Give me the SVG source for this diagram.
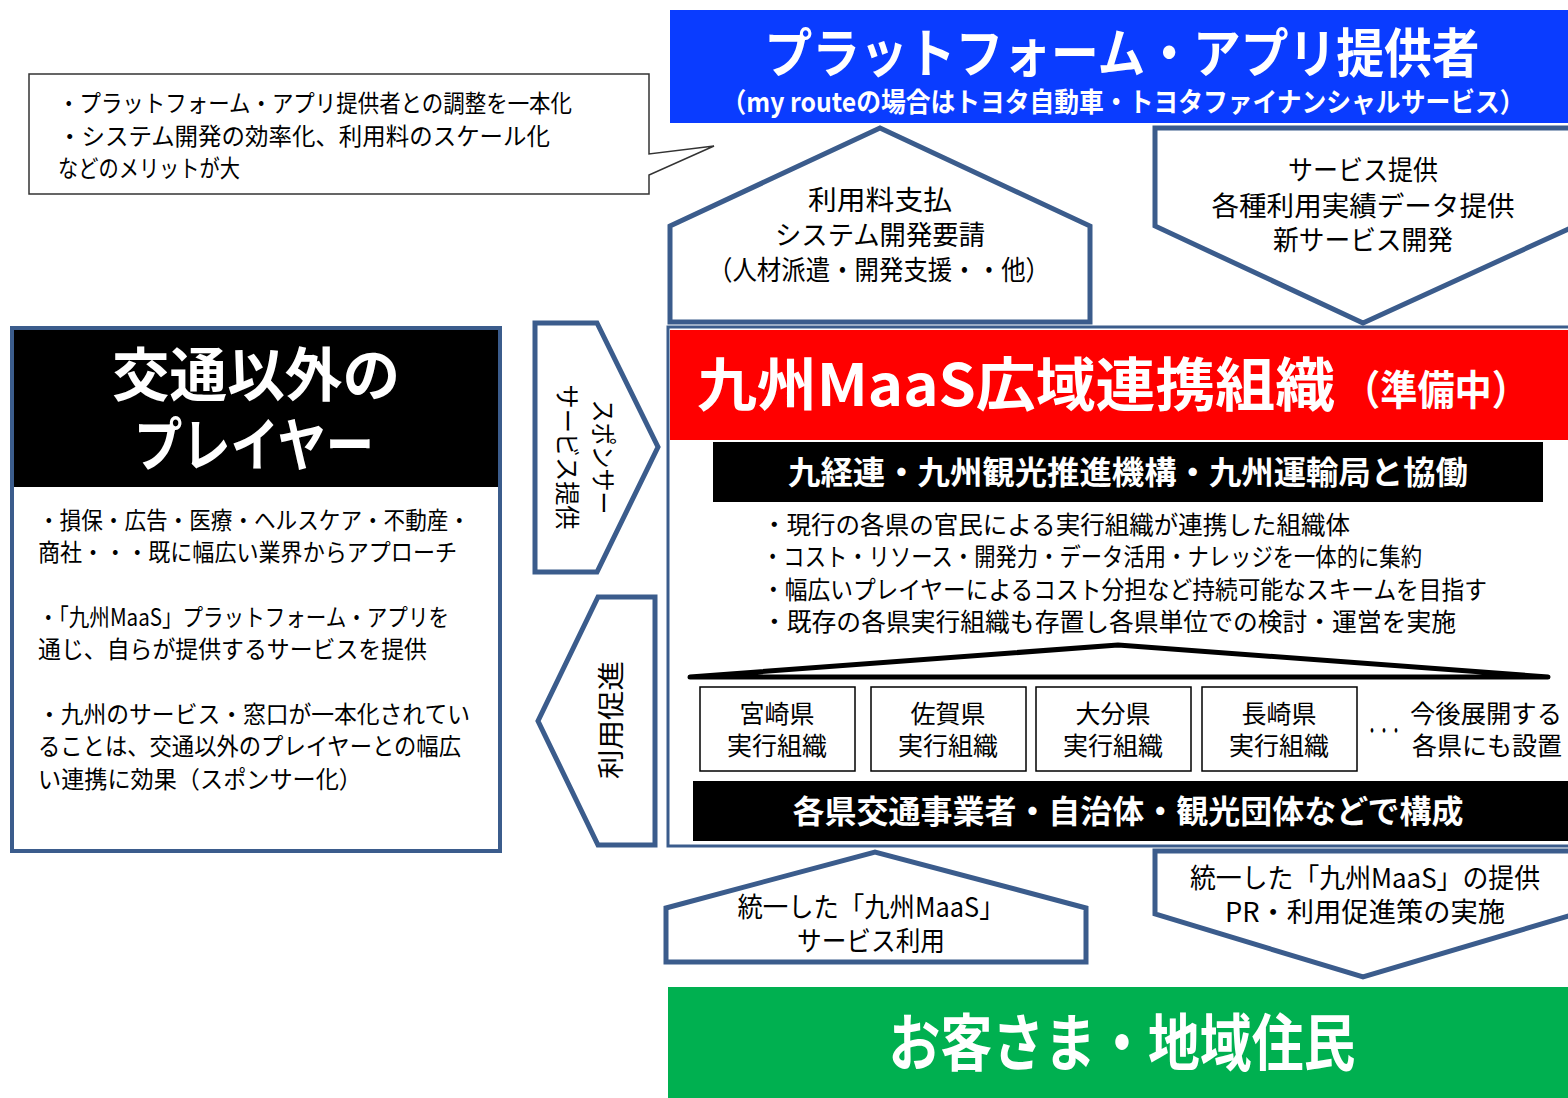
<svg xmlns="http://www.w3.org/2000/svg" width="1568" height="1098" viewBox="0 0 1568 1098">
<style>
text{font-family:"Noto Sans CJK JP","Noto Sans",sans-serif;}
.w{fill:#fff;font-weight:700;}
.k{fill:#000;}
.c{text-anchor:middle;}
.arr{fill:#fff;stroke:#3b5c8c;stroke-width:5;stroke-linejoin:miter;}
.pref{fill:#fff;stroke:#000;stroke-width:1.5;}
</style>
<rect width="1568" height="1098" fill="#fff"/>

<g id="callout">
<path d="M29,74 H649 V154 L714,146 L649,175 V194 H29 Z" fill="#fff" stroke="#333" stroke-width="1.5"/>
<text class="k" x="58" y="112" font-size="24" textLength="514" lengthAdjust="spacingAndGlyphs">・プラットフォーム・アプリ提供者との調整を一本化</text>
<text class="k" x="58" y="145" font-size="24" textLength="492" lengthAdjust="spacingAndGlyphs">・システム開発の効率化、利用料のスケール化</text>
<text class="k" x="58" y="177" font-size="24" textLength="182" lengthAdjust="spacingAndGlyphs">などのメリットが大</text>
</g>

<g id="platform">
<rect x="670" y="10" width="898" height="113" fill="#0a3cff"/>
<text class="w c" x="1122" y="73" font-size="53" textLength="715" lengthAdjust="spacingAndGlyphs">プラットフォーム・アプリ提供者</text>
<text class="w c" x="1123" y="112" font-size="27" textLength="803" lengthAdjust="spacingAndGlyphs">（my routeの場合はトヨタ自動車・トヨタファイナンシャルサービス）</text>
</g>

<g id="others">
<rect x="12" y="328" width="488" height="523" fill="#fff" stroke="#3b5c8c" stroke-width="4"/>
<rect x="14" y="330" width="484" height="157" fill="#000"/>
<text class="w c" x="256" y="396" font-size="58" textLength="288" lengthAdjust="spacingAndGlyphs">交通以外の</text>
<text class="w c" x="254" y="466" font-size="58" textLength="240" lengthAdjust="spacingAndGlyphs">プレイヤー</text>
<g class="k" font-size="24">
<text x="38" y="529" textLength="432" lengthAdjust="spacingAndGlyphs">・損保・広告・医療・ヘルスケア・不動産・</text>
<text x="38" y="561" textLength="419" lengthAdjust="spacingAndGlyphs">商社・・・既に幅広い業界からアプローチ</text>
<text x="38" y="626" textLength="411" lengthAdjust="spacingAndGlyphs">・「九州MaaS」プラットフォーム・アプリを</text>
<text x="38" y="658" textLength="389" lengthAdjust="spacingAndGlyphs">通じ、自らが提供するサービスを提供</text>
<text x="38" y="723" textLength="432" lengthAdjust="spacingAndGlyphs">・九州のサービス・窓口が一本化されてい</text>
<text x="38" y="755" textLength="423" lengthAdjust="spacingAndGlyphs">ることは、交通以外のプレイヤーとの幅広</text>
<text x="38" y="788" textLength="324" lengthAdjust="spacingAndGlyphs">い連携に効果（スポンサー化）</text>
</g>
</g>

<g id="org">
<rect x="668" y="327" width="905" height="519" fill="#fff" stroke="#3b5c8c" stroke-width="3"/>
<rect x="670" y="330" width="898" height="110" fill="#ff0000"/>
<text class="w" x="697" y="406" font-size="58" textLength="638" lengthAdjust="spacingAndGlyphs">九州MaaS広域連携組織</text>
<text class="w" x="1343" y="405" font-size="41" textLength="186" lengthAdjust="spacingAndGlyphs">（準備中）</text>
<rect x="713" y="442" width="830" height="60" fill="#000"/>
<text class="w c" x="1128" y="484" font-size="32" textLength="680" lengthAdjust="spacingAndGlyphs">九経連・九州観光推進機構・九州運輸局と協働</text>
<g class="k" font-size="25">
<text x="762" y="534" textLength="588" lengthAdjust="spacingAndGlyphs">・現行の各県の官民による実行組織が連携した組織体</text>
<text x="762" y="566" textLength="660" lengthAdjust="spacingAndGlyphs">・コスト・リソース・開発力・データ活用・ナレッジを一体的に集約</text>
<text x="762" y="599" textLength="725" lengthAdjust="spacingAndGlyphs">・幅広いプレイヤーによるコスト分担など持続可能なスキームを目指す</text>
<text x="762" y="631" textLength="694" lengthAdjust="spacingAndGlyphs">・既存の各県実行組織も存置し各県単位での検討・運営を実施</text>
</g>
<path d="M690,677 L1118,645 L1548,677 Z" fill="none" stroke="#000" stroke-width="5" stroke-linejoin="round"/>
<g id="pref-miyazaki">
<rect class="pref" x="700" y="687" width="155" height="84"/>
<text class="k c" x="777" y="723" font-size="25">宮崎県</text>
<text class="k c" x="777" y="755" font-size="25">実行組織</text>
</g>
<g id="pref-saga">
<rect class="pref" x="871" y="687" width="155" height="84"/>
<text class="k c" x="948" y="723" font-size="25">佐賀県</text>
<text class="k c" x="948" y="755" font-size="25">実行組織</text>
</g>
<g id="pref-oita">
<rect class="pref" x="1036" y="687" width="155" height="84"/>
<text class="k c" x="1113" y="723" font-size="25">大分県</text>
<text class="k c" x="1113" y="755" font-size="25">実行組織</text>
</g>
<g id="pref-nagasaki">
<rect class="pref" x="1202" y="687" width="155" height="84"/>
<text class="k c" x="1279" y="723" font-size="25">長崎県</text>
<text class="k c" x="1279" y="755" font-size="25">実行組織</text>
</g>
<g id="pref-future">
<text class="k" x="1366" y="738" font-size="22" textLength="36" lengthAdjust="spacingAndGlyphs">・・・</text>
<text class="k" x="1410" y="723" font-size="25" textLength="152" lengthAdjust="spacingAndGlyphs">今後展開する</text>
<text class="k" x="1412" y="755" font-size="25" textLength="150" lengthAdjust="spacingAndGlyphs">各県にも設置</text>
</g>
<rect x="693" y="781" width="875" height="60" fill="#000"/>
<text class="w c" x="1128" y="823" font-size="32" textLength="671" lengthAdjust="spacingAndGlyphs">各県交通事業者・自治体・観光団体などで構成</text>
</g>

<g id="customers">
<rect x="668" y="987" width="900" height="111" fill="#00b050"/>
<text class="w c" x="1122" y="1066" font-size="62" textLength="467" lengthAdjust="spacingAndGlyphs">お客さま・地域住民</text>
</g>

<g id="connectors">
<g id="arrow-fee">
<path class="arr" d="M670,226 L880,128 L1090,226 V322 H670 Z"/>
<text class="k c" x="880" y="210" font-size="27" textLength="144" lengthAdjust="spacingAndGlyphs">利用料支払</text>
<text class="k c" x="880" y="245" font-size="27" textLength="210" lengthAdjust="spacingAndGlyphs">システム開発要請</text>
<text class="k c" x="879" y="280" font-size="27" textLength="342" lengthAdjust="spacingAndGlyphs">（人材派遣・開発支援・・他）</text>
</g>
<g id="arrow-service">
<path class="arr" d="M1155,128 H1575 V226 L1363,323 L1155,226 Z"/>
<text class="k c" x="1363" y="180" font-size="27" textLength="150" lengthAdjust="spacingAndGlyphs">サービス提供</text>
<text class="k c" x="1363" y="216" font-size="27" textLength="303" lengthAdjust="spacingAndGlyphs">各種利用実績データ提供</text>
<text class="k c" x="1363" y="250" font-size="27" textLength="180" lengthAdjust="spacingAndGlyphs">新サービス開発</text>
</g>
<g id="arrow-sponsor">
<path class="arr" d="M535,323 H597 L658,447 L597,572 H535 Z"/>
<g transform="rotate(90 585 457)">
<text class="k c" x="585" y="448" font-size="25" textLength="115" lengthAdjust="spacingAndGlyphs">スポンサー</text>
<text class="k c" x="585" y="484" font-size="25" textLength="145" lengthAdjust="spacingAndGlyphs">サービス提供</text>
</g>
</g>
<g id="arrow-promote">
<path class="arr" d="M598,597 H655 V845 H598 L538,721 Z"/>
<g transform="rotate(-90 612 720)">
<text class="k c" x="612" y="729" font-size="27" textLength="118" lengthAdjust="spacingAndGlyphs">利用促進</text>
</g>
</g>
<g id="arrow-use">
<path class="arr" d="M666,908 L875,852 L1086,908 V962 H666 Z"/>
<text class="k c" x="871" y="917" font-size="27" textLength="267" lengthAdjust="spacingAndGlyphs">統一した「九州MaaS」</text>
<text class="k c" x="871" y="951" font-size="27" textLength="148" lengthAdjust="spacingAndGlyphs">サービス利用</text>
</g>
<g id="arrow-provide">
<path class="arr" d="M1155,851 H1575 V914 L1363,977 L1155,914 Z"/>
<text class="k c" x="1365" y="888" font-size="27" textLength="350" lengthAdjust="spacingAndGlyphs">統一した「九州MaaS」の提供</text>
<text class="k c" x="1365" y="922" font-size="27" textLength="280" lengthAdjust="spacingAndGlyphs">PR・利用促進策の実施</text>
</g>
</g>
</svg>
